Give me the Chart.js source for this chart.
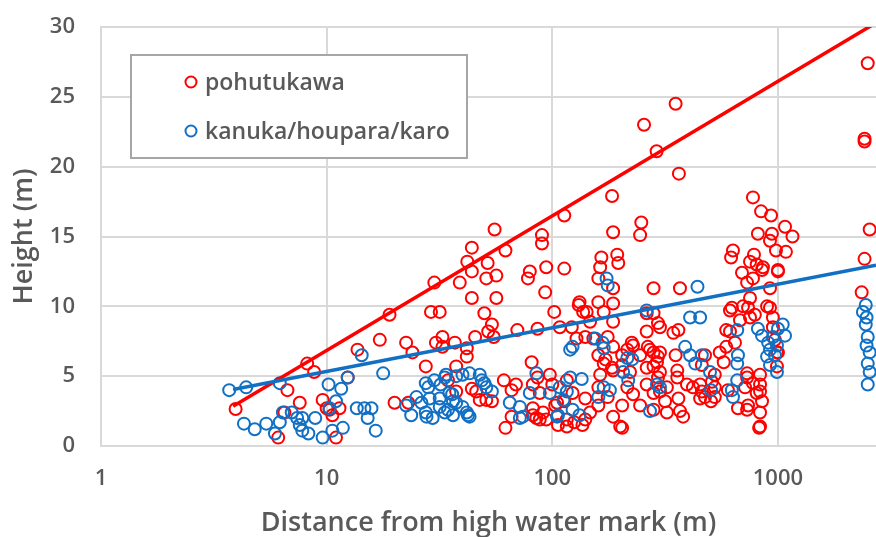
<!DOCTYPE html>
<html>
<head>
<meta charset="utf-8">
<script src="https://cdn.jsdelivr.net/npm/chart.js@4.4.1/dist/chart.umd.min.js"></script>
<style>
  html, body { margin: 0; padding: 0; background: #ffffff; }
  #wrap { position: relative; width: 876px; height: 537px; }
  canvas { display: block; }
</style>
</head>
<body>
<div id="wrap"><canvas id="c" width="876" height="537"></canvas></div>
<script>
// ---- Data (distance from high water mark in m, height in m) ----
const seriesNames = ["pohutukawa", "kanuka/houpara/karo"];
const xTickValues = [1, 10, 100, 1000];
const yTickValues = [0, 5, 10, 15, 20, 25, 30];
const xAxisTitle = "Distance from high water mark (m)";
const yAxisTitle = "Height (m)";

const pohutukawa = [
  [2500,27.4],[2420,22.0],[2420,21.8],[2550,15.5],[2420,13.4],[2350,11.0],
  [352,24.5],[255,23.0],[290,21.1],[364,19.5],[775,17.8],[842,16.8],[932,16.5],
  [1075,15.7],[1160,15.0],[815,15.2],[940,15.2],[922,14.7],[980,14.0],[1085,13.9],
  [632,14.0],[620,13.5],[783,13.7],[752,13.2],[805,13.0],[858,12.8],[1000,12.6],
  [184,17.9],[113,16.5],[55.5,15.5],[90,15.1],[90,14.5],[186,15.3],[248,16.0],[245,15.1],
  [44,14.2],[62,14.0],[42,13.2],[51.7,13.1],[165,13.5],[194,13.7],[196,13.1],
  [94,12.8],[113,12.7],[79.5,12.5],[163,12.8],
  [38.9,11.7],[44,12.5],[51,12.0],[56.5,12.2],[78,12.0],[93,11.0],[160,12.0],
  [186,11.3],[281,11.3],[44,10.6],[56.5,10.6],[50,9.5],[31.7,9.6],[30,11.7],
  [70,8.3],[86,8.4],[102,9.6],[108,8.5],[122,8.5],[132,10.3],[142,9.6],[160,10.3],
  [169,9.6],[186,10.2],[186,8.9],[54,8.7],[55,7.8],[32.6,7.8],[37,7.4],[41.8,7.0],
  [41.8,6.4],[45.5,7.8],[128,7.7],[140,7.8],[176,7.8],[186,7.1],[160,6.5],[204,6.5],
  [228,7.2],[262,8.2],[265,7.1],[281,6.7],[291,6.0],[245,6.5],[169,5.9],[184,5.6],
  [204,5.8],[221,5.3],[81,6.0],[86,4.9],[97.5,5.1],[88,3.8],[100,4.4],[116,4.7],
  [69,4.4],[66,4.0],[61,4.7],[46,3.9],[47.7,3.3],[54,3.2],[37.5,5.7],[34.5,4.7],
  [37.5,3.9],[66,2.1],[62,1.3],[82,2.7],[85,2.0],[91,2.4],[94,1.9],[106,1.5],
  [116,1.4],[125,1.7],[136,1.5],[140,3.4],[147,2.4],[160,2.9],[176,3.5],[186,2.1],
  [204,2.9],[204,1.3],[228,3.7],[245,2.9],[262,4.4],[281,3.8],[163,5.1],[186,5.4],
  [215,4.2],[262,5.6],[123,3.8],[113,3.2],[103,2.9],
  [368,11.3],[625,9.9],[679,9.0],[613,8.2],[645,7.4],[737,9.9],[790,9.4],[922,9.9],
  [950,9.2],[752,10.6],[730,11.7],[775,12.0],[850,12.6],[922,11.3],[1000,12.5],
  [693,12.4],[344,8.1],[362,8.3],[352,6.5],[358,5.4],[475,6.5],[460,5.8],[525,5.1],
  [552,6.7],[575,6.0],[730,4.9],[715,4.2],[833,5.1],[833,4.4],[833,3.9],[850,3.2],
  [833,2.4],[825,1.3],[737,2.9],[665,2.7],[300,3.9],[316,3.2],[322,2.4],[362,3.4],
  [380,2.1],[395,4.4],[420,4.2],[460,3.9],[510,4.6],[525,3.5],[505,3.2],[452,3.4],
  [300,8.5],[300,6.7],[300,5.3],[1000,6.7],
  [833,1.4],[730,2.6],[368,2.5],[281,2.6],[200,1.4],[172,6.2],[215,6.9],[225,7.4],
  [271,6.9],[281,5.7],[294,6.4],[294,4.9],[322,4.2],[358,4.9],[294,8.8],[281,9.5],
  [262,9.5],[452,4.4],[475,3.5],[525,4.2],[600,4.0],[590,7.1],[590,8.3],[613,9.7],
  [700,10.0],[752,9.2],[895,10.0],[950,8.5],[970,7.6],[990,6.7],[990,5.7],[730,5.2],
  [775,4.5],[805,3.8],
  [29,9.6],[19,9.4],[17.2,7.6],[13.7,6.9],[22.5,7.4],[24,6.7],[30.5,7.4],[32.6,7.1],
  [52,8.2],[27.5,5.7],[8.2,5.9],[8.8,5.3],[20,3.1],[44,4.1],[51,3.3],[82,4.4],
  [82,2.2],[88,1.9],[105,3.1],[116,1.9],[140,1.9],[131,10.1],[137,9.6],[147,8.9],
  [152,7.7],[160,4.2],[9.6,3.3],[10.3,2.6],[10.6,2.2],[11,0.6],[12.4,4.9],
  [3.95,2.65],[6.7,4.0],[7.6,3.1],[10,2.7],[6.5,2.4],[11.4,2.7],[6.1,0.6],[23,3.1]
];

const kanuka = [
  [3.7,4.0],[4.4,4.2],[6.2,4.5],[14.3,6.5],[17.8,5.2],[12.4,4.9],[10.2,4.4],[11.6,4.1],
  [4.3,1.6],[4.8,1.2],[5.4,1.6],[5.9,0.9],[6.2,1.7],[6.4,2.4],[7.0,2.4],[7.4,2.0],
  [7.6,1.5],[7.8,1.1],[8.3,0.9],[8.9,2.0],[9.6,0.6],[10.6,1.1],[11.8,1.3],[11,3.2],
  [10.3,2.7],[13.6,2.7],[14.7,2.7],[15.8,2.7],[15.2,2.0],[16.5,1.1],[25,3.5],[27.5,4.5],
  [28.2,4.2],[23.7,2.2],[26.3,3.1],[27.7,2.1],[29.5,2.0],[7.8,2.0],
  [30,4.7],[33.8,5.1],[37.5,5.0],[43,5.2],[47.7,5.1],[48.7,4.7],[51,4.2],[54,3.9],
  [28.6,3.4],[31.7,3.4],[36,3.7],[22.5,2.9],[27.5,2.4],[31.7,2.8],[34.5,2.6],[36.3,2.2],
  [37.5,3.1],[40,2.8],[41.8,2.4],[43,2.1],[64.8,3.1],[71.8,2.8],[74,2.1],[79.5,3.8],
  [85,5.2],[97.5,3.8],[112,3.3],[116,3.9],[123,2.6],[135,4.8],[120,6.9],[106,2.2],
  [174,12.0],[176,11.5],[262,9.7],[123,7.1],[155,7.7],[167,7.4],[169,7.0],[215,6.3],
  [226,6.2],[206,5.3],[217,4.7],[50,4.5],[40,5.1],[33.4,4.9],[32,4.4],[35,3.8],
  [36.3,3.2],[42.3,2.2],[33.4,2.4],[71.8,2.0],[108,4.2],[120,4.9],[105,2.1],[132,2.2],
  [160,3.5],[169,4.2],[180,4.0],[271,2.5],[291,4.4],
  [440,11.4],[408,9.2],[452,9.2],[388,7.1],[408,6.5],[430,5.9],[460,6.5],[500,5.3],
  [505,4.0],[625,4.0],[632,3.5],[660,4.7],[660,5.9],[665,6.5],[660,8.3],[815,8.4],
  [850,7.9],[905,7.4],[950,7.8],[990,7.2],[922,6.9],[895,6.4],[970,6.5],[922,5.8],
  [990,5.3],[1050,8.7],[1075,7.9],[1000,8.4],[300,4.2],
  [2450,10.1],[2380,9.6],[2470,9.2],[2450,8.7],[2500,7.8],[2470,7.2],[2550,6.7],
  [2500,5.9],[2550,5.3],[2500,4.4]
];

// Trend line end points (logarithmic trend, straight on a log axis)
const pohutukawaTrend = [[3.85, 2.85], [2720, 30.3]];
const kanukaTrend = [[3.85, 4.05], [2720, 12.95]];

const xMin = 1, xMax = 2720, yMin = 0, yMax = 30;

// ---- Styles ----
const RED = '#ff0000';
const BLUE = '#1170c4';
const GRID = '#d9d9d9';
const TEXT = '#595959';
const FONT = "'Open Sans', 'DejaVu Sans', sans-serif";

const toXY = arr => arr.map(([x, y]) => ({ x, y }));

const legendPlugin = {
  id: 'boxLegend',
  afterDraw(chart) {
    const ctx = chart.ctx;
    ctx.save();
    const bx = 131, by = 55, bw = 336, bh = 103;
    ctx.fillStyle = '#ffffff';
    ctx.fillRect(bx, by, bw, bh);
    ctx.strokeStyle = '#a6a6a6';
    ctx.lineWidth = 2;
    ctx.strokeRect(bx, by, bw, bh);
    const items = [
      { label: seriesNames[0], color: RED, y: 82 },
      { label: seriesNames[1], color: BLUE, y: 131 }
    ];
    ctx.font = "600 23px " + FONT;
    ctx.textBaseline = 'middle';
    ctx.textAlign = 'left';
    items.forEach(it => {
      ctx.beginPath();
      ctx.arc(191, it.y, 5.5, 0, Math.PI * 2);
      ctx.strokeStyle = it.color;
      ctx.lineWidth = 2;
      ctx.stroke();
      ctx.fillStyle = TEXT;
      ctx.fillText(it.label, 205, it.y + 1);
    });
    ctx.restore();
  }
};

new Chart(document.getElementById('c'), {
  type: 'scatter',
  data: {
    datasets: [
      {
        label: seriesNames[0],
        data: toXY(pohutukawa),
        borderColor: RED,
        backgroundColor: 'rgba(0,0,0,0)',
        pointRadius: 6,
        borderWidth: 2,
        order: 4
      },
      {
        label: seriesNames[1],
        data: toXY(kanuka),
        borderColor: BLUE,
        backgroundColor: 'rgba(0,0,0,0)',
        pointRadius: 6,
        borderWidth: 2,
        order: 3
      },
      {
        type: 'line',
        label: 'pohutukawa trend',
        data: toXY(pohutukawaTrend),
        borderColor: RED,
        borderWidth: 3.5,
        pointRadius: 0,
        fill: false,
        order: 2
      },
      {
        type: 'line',
        label: 'kanuka trend',
        data: toXY(kanukaTrend),
        borderColor: BLUE,
        borderWidth: 3.5,
        pointRadius: 0,
        fill: false,
        order: 1
      }
    ]
  },
  options: {
    responsive: false,
    animation: false,
    layout: { autoPadding: false, padding: { top: 27, right: 0, bottom: 0, left: 0 } },
    plugins: {
      legend: { display: false },
      tooltip: { enabled: false }
    },
    scales: {
      x: {
        type: 'logarithmic',
        min: xMin,
        max: xMax,
        afterBuildTicks: axis => { axis.ticks = xTickValues.map(v => ({ value: v })); },
        afterFit: axis => { axis.height = 91; axis.paddingLeft = 0; axis.paddingRight = 0; },
        ticks: {
          color: TEXT,
          font: { family: FONT, size: 22, weight: '600' },
          padding: 20,
          maxRotation: 0,
          autoSkip: false,
          callback: v => String(v)
        },
        grid: { color: GRID, lineWidth: 2, drawTicks: false },
        border: { color: GRID, width: 2 },
        title: {
          display: true,
          text: xAxisTitle,
          color: TEXT,
          font: { family: FONT, size: 27, weight: '600' },
          padding: { top: 0, bottom: -3 }
        }
      },
      y: {
        type: 'linear',
        min: yMin,
        max: yMax,
        afterBuildTicks: axis => { axis.ticks = yTickValues.map(v => ({ value: v })); },
        afterFit: axis => { axis.width = 101; axis.paddingTop = 0; axis.paddingBottom = 0; },
        ticks: {
          color: TEXT,
          font: { family: FONT, size: 22, weight: '600' },
          padding: 26
        },
        grid: { color: GRID, lineWidth: 2, drawTicks: false },
        border: { color: GRID, width: 2 },
        title: {
          display: true,
          text: yAxisTitle,
          color: TEXT,
          font: { family: FONT, size: 27, weight: '600' },
          padding: { top: 8, bottom: 0 }
        }
      }
    }
  },
  plugins: [legendPlugin]
});
</script>
</body>
</html>
